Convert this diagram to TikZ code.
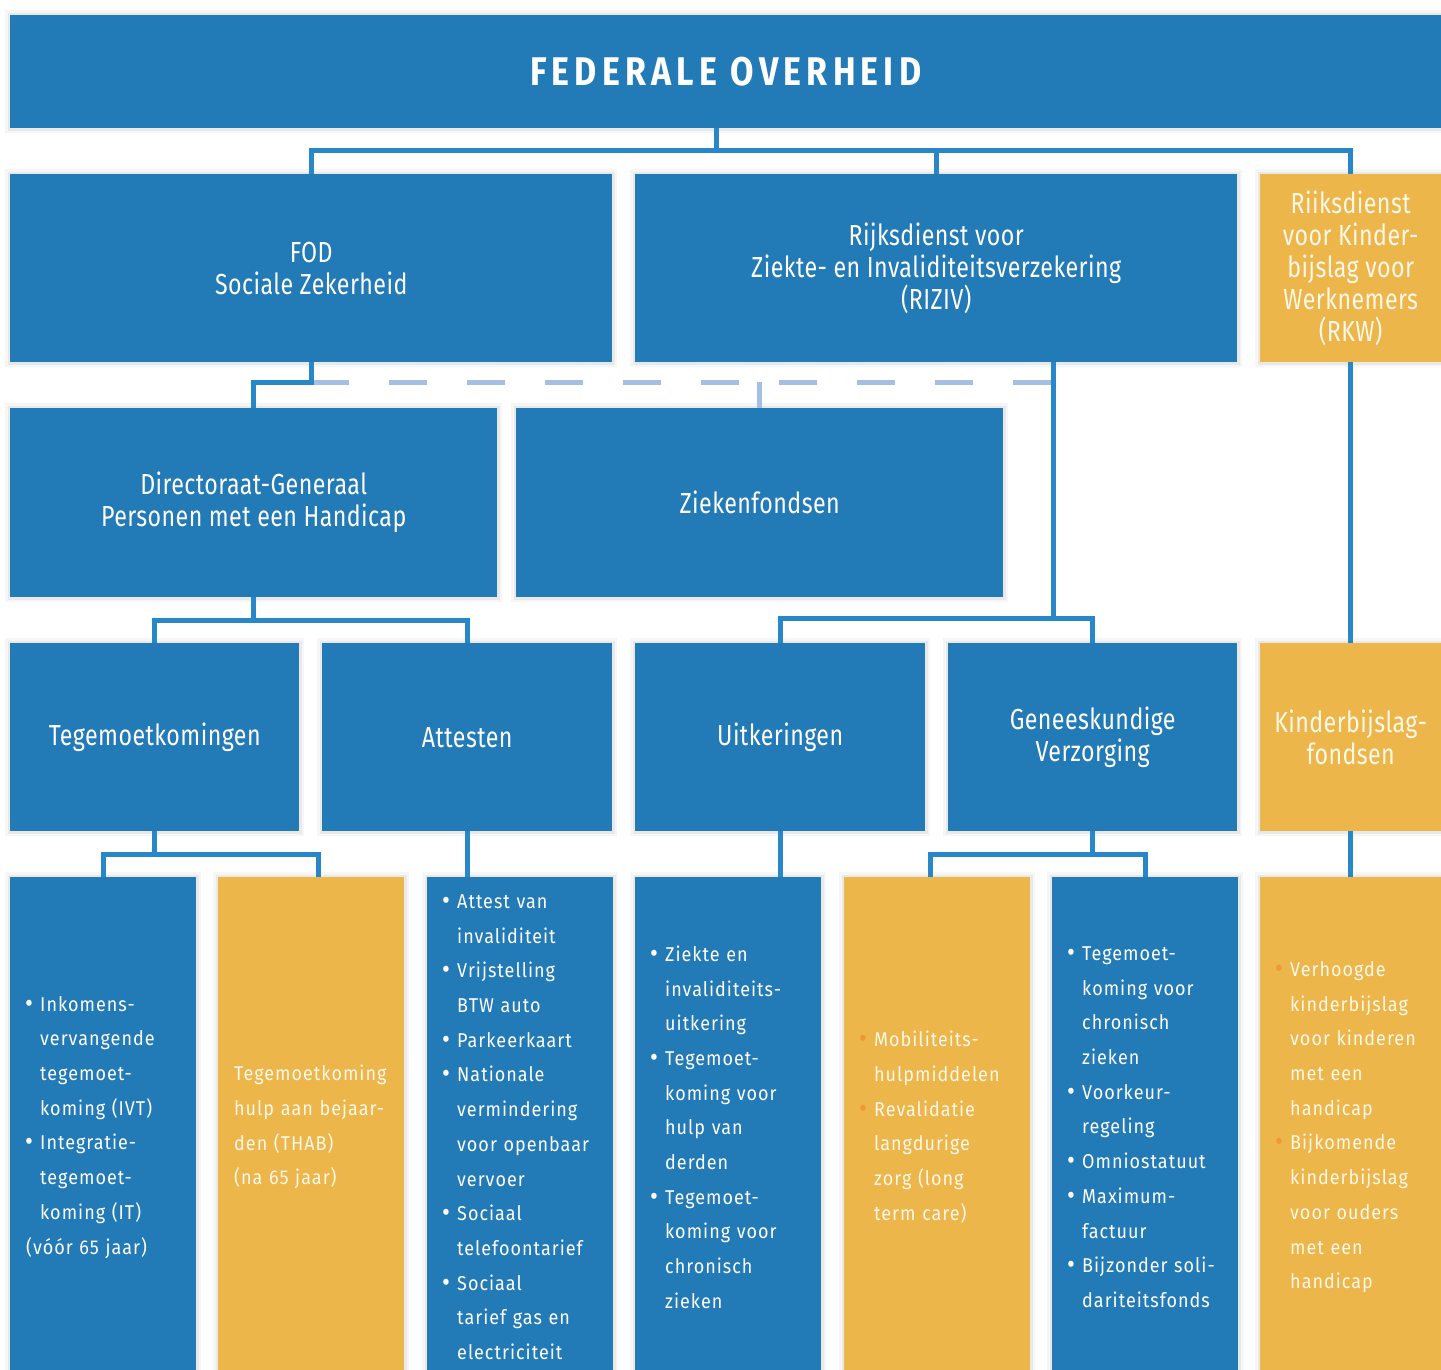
\documentclass[tikz,border=0pt]{standalone}
\usepackage{fontspec}
\setmainfont{Fira Sans}[FakeStretch=0.9,LetterSpace=5]
\newfontfamily\condfont{Fira Sans}[FakeStretch=0.8,LetterSpace=1.5]
\newfontfamily\titlefont{Fira Sans}[FakeStretch=0.85,LetterSpace=13]

\definecolor{boxblue}{RGB}{34,122,183}
\definecolor{linkblue}{RGB}{40,135,200}
\definecolor{dashblue}{RGB}{164,190,228}
\definecolor{boxyellow}{RGB}{236,182,75}
\definecolor{txtcream}{RGB}{255,248,232}
\definecolor{bulorange}{RGB}{242,150,60}

\newcommand{\bigdot}{\raisebox{-.1ex}{\fontsize{27}{27}\selectfont\textbullet}}
\newcommand{\bitm}{\makebox[14pt][l]{\hspace*{-1pt}\bigdot}}
\newcommand{\oitm}{\makebox[14pt][l]{\hspace*{-1pt}\textcolor{bulorange}{\bigdot}}}
\newcommand{\ind}{\hspace*{14pt}}

\tikzset{
  box/.style={rectangle, anchor=north west, inner sep=0pt, text=white, align=center,
    preaction={draw=black, opacity=.035, line width=10pt},
    preaction={draw=black, opacity=.05, line width=5pt}},
  blue box/.style={box, fill=boxblue},
  yellow box/.style={box, fill=boxyellow, text=txtcream},
  head/.style={font=\condfont\fontsize{29}{32}\selectfont},
  % the leaves run on below the page edge
  leaf/.style={align=left, inner xsep=16pt, text width=154pt, minimum height=500pt,
    font=\fontsize{20}{34.7}\selectfont},
  link/.style={draw=linkblue, line width=5pt},
  dash link/.style={draw=dashblue, line width=5pt, dash pattern=on 38pt off 40pt}
}

\begin{document}
\begin{tikzpicture}[x=1pt,y=-1pt]
                \useasboundingbox (0,0) rectangle (1441,1369);

                % top level
                \node[blue box, minimum width=1431pt, minimum height=113pt] (top) at (10,15)
                  {\titlefont\bfseries\fontsize{40}{40}\selectfont FEDERALE OVERHEID};

                % second row
                \node[blue box, head, minimum width=602pt, minimum height=188pt] (fod) at (10,174)
                  {FOD\\Sociale Zekerheid};
                \node[blue box, head, minimum width=602pt, minimum height=188pt] (riziv) at (635,174)
                  {Rijksdienst voor\\Ziekte- en Invaliditeitsverzekering\\(RIZIV)};
                \node[yellow box, head, minimum width=181pt, minimum height=188pt] (rkw) at (1260,174)
                  {Riiksdienst\\voor Kinder-\\bijslag voor\\Werknemers\\(RKW)};

                % third row
                \node[blue box, head, minimum width=487pt, minimum height=189pt] (dg) at (10,408)
                  {Directoraat-Generaal\\Personen met een Handicap};
                \node[blue box, head, minimum width=487pt, minimum height=189pt] (zf) at (516,408)
                  {Ziekenfondsen};

                % fourth row
                \node[blue box, head, minimum width=289pt, minimum height=188pt] (teg) at (10,643)
                  {Tegemoetkomingen};
                \node[blue box, head, minimum width=290pt, minimum height=188pt] (att) at (322,643)
                  {Attesten};
                \node[blue box, head, minimum width=290pt, minimum height=188pt] (uitk) at (635,643)
                  {Uitkeringen};
                \node[blue box, head, minimum width=289pt, minimum height=188pt] (gen) at (948,643)
                  {Geneeskundige\\Verzorging};
                \node[yellow box, head, minimum width=181pt, minimum height=188pt] (kbf) at (1260,643)
                  {Kinderbijslag-\\fondsen};

                % bottom row
                \node[blue box, leaf] (b1) at (10,877)
                  {\bitm Inkomens-\\ \ind vervangende\\ \ind tegemoet-\\ \ind koming (IVT)\\
                   \bitm Integratie-\\ \ind tegemoet-\\ \ind koming (IT)\\ (vóór 65 jaar)};
                \node[yellow box, leaf] (b2) at (218,877)
                  {Tegemoetkoming\\ hulp aan bejaar-\\ den (THAB)\\ (na 65 jaar)};
                \node[blue box, leaf] (b3) at (427,877)
                  {\bitm Attest van\\ \ind invaliditeit\\ \bitm Vrijstelling\\ \ind BTW auto\\
                   \bitm Parkeerkaart\\ \bitm Nationale\\ \ind vermindering\\ \ind voor openbaar\\
                   \ind vervoer\\ \bitm Sociaal\\ \ind telefoontarief\\ \bitm Sociaal\\
                   \ind tarief gas en\\ \ind electriciteit};
                \node[blue box, leaf] (b4) at (635,877)
                  {\bitm Ziekte en\\ \ind invaliditeits-\\ \ind uitkering\\ \bitm Tegemoet-\\
                   \ind koming voor\\ \ind hulp van\\ \ind derden\\ \bitm Tegemoet-\\
                   \ind koming voor\\ \ind chronisch\\ \ind zieken};
                \node[yellow box, leaf] (b5) at (844,877)
                  {\oitm Mobiliteits-\\ \ind hulpmiddelen\\ \oitm Revalidatie\\ \ind langdurige\\
                   \ind zorg (long\\ \ind term care)};
                \node[blue box, leaf] (b6) at (1052,877)
                  {\bitm Tegemoet-\\ \ind koming voor\\ \ind chronisch\\ \ind zieken\\
                   \bitm Voorkeur-\\ \ind regeling\\ \bitm Omniostatuut\\ \bitm Maximum-\\
                   \ind factuur\\ \bitm Bijzonder soli-\\ \ind dariteitsfonds};
                \node[yellow box, leaf] (b7) at (1260,877)
                  {\oitm Verhoogde\\ \ind kinderbijslag\\ \ind voor kinderen\\ \ind met een\\
                   \ind handicap\\ \oitm Bijkomende\\ \ind kinderbijslag\\ \ind voor ouders\\
                   \ind met een\\ \ind handicap};

                % junctions of the tree
                \coordinate (j0) at (716,150);
                \coordinate (j1) at (0,382);
                \coordinate (rzout) at (1053,362);
                \coordinate (j2) at (0,618);
                \coordinate (j3) at (0,620);
                \coordinate (j4) at (0,854);
                \coordinate (b2in) at (318,877);
                \coordinate (b5in) at (930,877);

                \draw[link] (top.south -| j0) -- (j0);
                \draw[link] (fod.north) |- (rkw.north |- j0) -- (rkw.north);
                \draw[link] (riziv.north) -- (riziv.north |- j0);

                \draw[dash link] (fod.south |- j1) -- (rzout |- j1);
                \draw[draw=dashblue, line width=5pt] (zf.north |- j1) -- (zf.north);
                \draw[link] (fod.south) -- (fod.south |- j1) -| (dg.north);

                \draw[link] (rzout) -- (rzout |- j2);
                \draw[link] (uitk.north) |- (gen.north |- j2) -- (gen.north);
                \draw[link] (rkw.south) -- (kbf.north);

                \draw[link] (dg.south) -- (dg.south |- j3);
                \draw[link] (teg.north) |- (att.north |- j3) -- (att.north);

                \draw[link] (teg.south) -- (teg.south |- j4);
                \draw[link] (b1.north) |- (b2in |- j4) -- (b2in);
                \draw[link] (att.south) -- (att.south |- b3.north);
                \draw[link] (uitk.south) -- (uitk.south |- b4.north);
                \draw[link] (gen.south) -- (gen.south |- j4);
                \draw[link] (b5in) |- (b6.north |- j4) -- (b6.north);
                \draw[link] (kbf.south) -- (kbf.south |- b7.north);
            \end{tikzpicture}
\end{document}
